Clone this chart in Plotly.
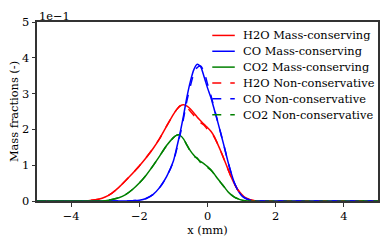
import plotly.graph_objects as go

# ---- data ----
x_h2o = [-5.0, -3.8, -3.5, -3.2, -3.0, -2.8, -2.6, -2.4, -2.2, -2.0, -1.8, -1.6, -1.4, -1.2, -1.0, -0.9, -0.8,
         -0.7, -0.6, -0.5, -0.4, -0.3, -0.2, -0.1, 0.0, 0.1, 0.2, 0.3, 0.4, 0.5, 0.6, 0.7, 0.8, 0.9,
         1.0, 1.1, 1.2, 1.3, 1.5, 5.0]
h2o_mc = [0.0, 0.0, 0.001, 0.005, 0.011, 0.022, 0.038, 0.057, 0.077, 0.098, 0.121, 0.146, 0.175, 0.209, 0.242,
          0.256, 0.266, 0.269, 0.265, 0.257, 0.246, 0.234, 0.224, 0.214, 0.205, 0.195, 0.180, 0.159, 0.137,
          0.113, 0.089, 0.066, 0.046, 0.030, 0.019, 0.010, 0.005, 0.002, 0.0, 0.0]
h2o_nc = [0.0, 0.0, 0.001, 0.005, 0.011, 0.022, 0.038, 0.057, 0.077, 0.098, 0.121, 0.146, 0.175, 0.209, 0.242,
          0.256, 0.266, 0.268, 0.261, 0.250, 0.239, 0.230, 0.219, 0.212, 0.200, 0.192, 0.178, 0.159, 0.137,
          0.113, 0.089, 0.066, 0.046, 0.030, 0.019, 0.010, 0.005, 0.002, 0.0, 0.0]

x_co = [-5.0, -2.4, -2.2, -2.0, -1.8, -1.6, -1.4, -1.2, -1.0, -0.9, -0.8, -0.7, -0.6, -0.5, -0.4, -0.3,
        -0.2, -0.1, 0.0, 0.1, 0.2, 0.3, 0.4, 0.5, 0.6, 0.7, 0.8, 0.9, 1.0, 1.1, 1.2, 1.3, 1.5, 5.0]
co_mc = [0.0, 0.0, 0.001, 0.002, 0.007, 0.018, 0.038, 0.068, 0.112, 0.150, 0.192, 0.240, 0.292, 0.335,
         0.367, 0.382, 0.375, 0.347, 0.316, 0.289, 0.255, 0.221, 0.185, 0.148, 0.110, 0.076, 0.048, 0.028,
         0.015, 0.008, 0.004, 0.001, 0.0, 0.0]
co_nc = [0.0, 0.0, 0.001, 0.002, 0.007, 0.018, 0.038, 0.068, 0.110, 0.146, 0.186, 0.232, 0.282, 0.322,
         0.356, 0.373, 0.377, 0.361, 0.327, 0.295, 0.258, 0.222, 0.185, 0.148, 0.110, 0.076, 0.048, 0.028,
         0.015, 0.008, 0.004, 0.001, 0.0, 0.0]

x_co2 = [-5.0, -3.3, -3.0, -2.8, -2.6, -2.4, -2.2, -2.0, -1.8, -1.6, -1.4, -1.2, -1.0, -0.9, -0.85, -0.8,
         -0.7, -0.6, -0.5, -0.4, -0.3, -0.2, -0.1, 0.0, 0.1, 0.2, 0.3, 0.4, 0.5, 0.6, 0.7, 0.8, 0.9,
         1.0, 1.2, 5.0]
co2_mc = [0.0, 0.0, 0.001, 0.004, 0.009, 0.018, 0.032, 0.050, 0.072, 0.098, 0.126, 0.155, 0.177, 0.184,
          0.185, 0.183, 0.173, 0.156, 0.140, 0.128, 0.118, 0.110, 0.104, 0.096, 0.087, 0.075, 0.062, 0.050,
          0.038, 0.026, 0.017, 0.010, 0.006, 0.003, 0.0, 0.0]
co2_nc = [0.0, 0.0, 0.001, 0.004, 0.009, 0.018, 0.032, 0.050, 0.072, 0.098, 0.126, 0.155, 0.177, 0.184,
          0.185, 0.183, 0.173, 0.155, 0.138, 0.125, 0.120, 0.107, 0.106, 0.094, 0.086, 0.075, 0.062, 0.050,
          0.038, 0.026, 0.017, 0.010, 0.006, 0.003, 0.0, 0.0]

series_names = ["H2O Mass-conserving", "CO Mass-conserving", "CO2 Mass-conserving",
                "H2O Non-conservative", "CO Non-conservative", "CO2 Non-conservative"]

y_tickvals = [0.0, 0.1, 0.2, 0.3, 0.4, 0.5]
y_ticktext = ["0", "1", "2", "3", "4", "5"]
x_tickvals = [-4, -2, 0, 2, 4]
x_ticktext = ["\u22124", "\u22122", "0", "2", "4"]

RED, BLUE, GREEN = "#ff0000", "#0000ff", "#008000"
FONT = "DejaVu Serif, serif"
FS = 11.4

fig = go.Figure()
series = [
    (series_names[0], x_h2o, h2o_mc, RED, "solid"),
    (series_names[1], x_co, co_mc, BLUE, "solid"),
    (series_names[2], x_co2, co2_mc, GREEN, "solid"),
    (series_names[3], x_h2o, h2o_nc, RED, "dash"),
    (series_names[4], x_co, co_nc, BLUE, "dash"),
    (series_names[5], x_co2, co2_nc, GREEN, "dash"),
]
for name, xs, ys, col, dash in series:
    fig.add_trace(go.Scatter(x=xs, y=ys, name=name, mode="lines", showlegend=False,
                             line=dict(color=col, width=1.5, dash=dash, shape="spline", smoothing=0.6)))

# manual legend (matplotlib-like compact spacing)
row0, drow = 0.925, 0.0885
for i, (name, xs, ys, col, dash) in enumerate(series):
    yy = row0 - i * drow
    fig.add_shape(type="line", xref="paper", yref="paper", x0=0.514, x1=0.580, y0=yy, y1=yy,
                  line=dict(color=col, width=1.5, dash="dash" if dash == "dash" else "solid"))
    fig.add_annotation(text=name, xref="paper", yref="paper", x=0.598, y=yy, xanchor="left",
                       yanchor="middle", showarrow=False,
                       font=dict(family=FONT, size=FS, color="#000"))

axis_common = dict(showline=True, linecolor="#333333", linewidth=2, mirror=True,
                   ticks="outside", ticklen=3.5, tickwidth=1, tickcolor="#333333",
                   showgrid=False, zeroline=False,
                   tickfont=dict(family=FONT, size=FS, color="#000000"))

fig.update_xaxes(range=[-5, 5], tickvals=x_tickvals, ticktext=x_ticktext,
                 title=dict(text="x (mm)", font=dict(family=FONT, size=FS, color="#000"), standoff=2),
                 **axis_common)
fig.update_yaxes(range=[0, 0.5], tickvals=y_tickvals, ticktext=y_ticktext,
                 title=dict(text="Mass fractions (-)", font=dict(family=FONT, size=FS, color="#000"), standoff=1),
                 **axis_common)

fig.add_annotation(text="1e\u22121", xref="paper", yref="paper", x=0, y=1, xanchor="left", yanchor="bottom",
                   showarrow=False, font=dict(family=FONT, size=FS, color="#000"), yshift=-3)

fig.update_layout(
    width=392, height=245,
    margin=dict(l=37, r=13, t=22, b=41),
    paper_bgcolor="white", plot_bgcolor="white",
    font=dict(family=FONT, size=FS, color="#000"),
    showlegend=False,
)

fig.write_html("out.html", config={"displayModeBar": False},
               post_script="document.body.style.margin='0';document.body.style.padding='0';")
